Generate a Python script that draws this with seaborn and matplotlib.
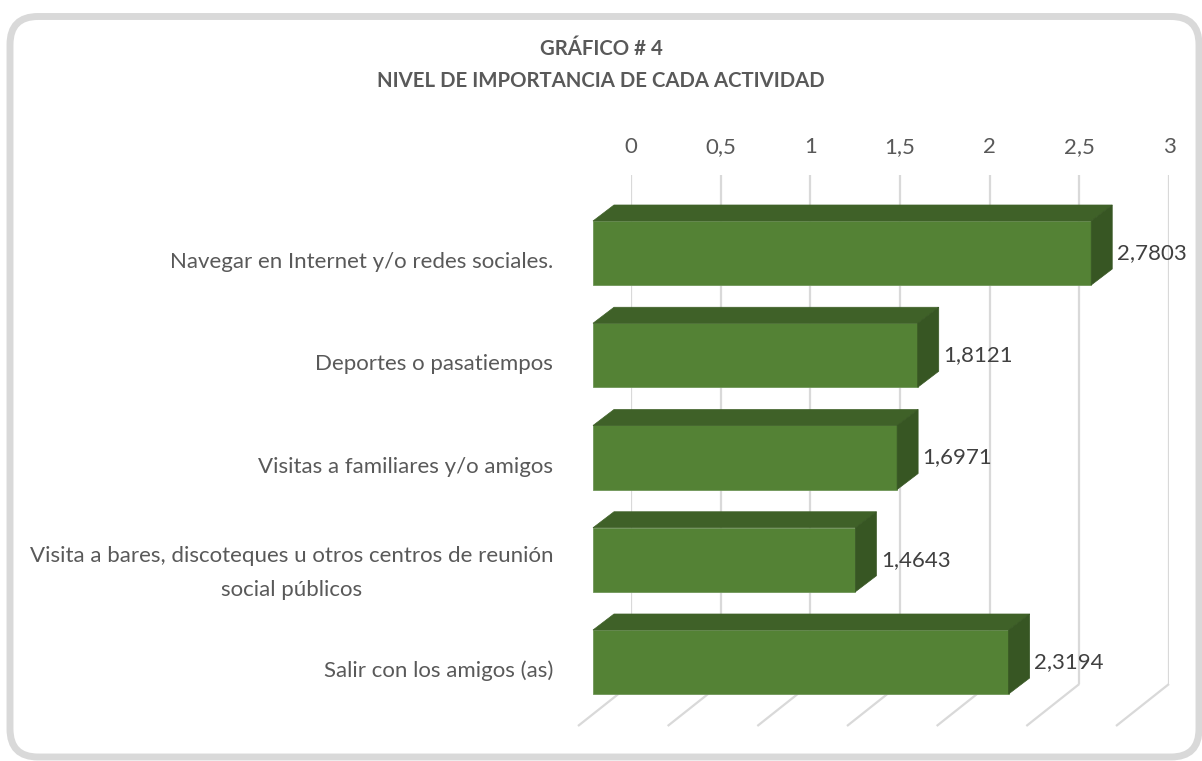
import matplotlib
matplotlib.use('Agg')
import matplotlib.pyplot as plt
import seaborn as sns
import pandas as pd
from matplotlib.patches import Polygon, FancyBboxPatch
from matplotlib.transforms import IdentityTransform

# Data
categories = [
    "Navegar en Internet y/o redes sociales.",
    "Deportes o pasatiempos",
    "Visitas a familiares y/o amigos",
    "Visita a bares, discoteques u otros centros de reunión\nsocial públicos",
    "Salir con los amigos (as)",
]
values = [2.7803, 1.8121, 1.6971, 1.4643, 2.3194]
value_labels = ["2,7803", "1,8121", "1,6971", "1,4643", "2,3194"]
tick_values = [0, 0.5, 1, 1.5, 2, 2.5, 3]
tick_labels = ["0", "0,5", "1", "1,5", "2", "2,5", "3"]
title_lines = ["GRÁFICO # 4", "NIVEL DE IMPORTANCIA DE CADA ACTIVIDAD"]

sns.set_style("white")
plt.rcParams['font.family'] = ['Lato', 'DejaVu Sans']

W, H = 1202, 761
fig = plt.figure(figsize=(W / 100, H / 100), dpi=100)

FRONT = '#548235'
TOP = '#3f6128'
SIDE = '#375623'
GRID = '#d9d9d9'
TXT = '#595959'
FS = 16


def px_box(left, top, right, bottom):
    return [left / W, 1 - bottom / H, (right - left) / W, (bottom - top) / H]


# back wall: gridlines + top tick labels
ax_back = fig.add_axes(px_box(631, 175, 1169, 684))
ax_back.set_xlim(0, 3)
ax_back.set_ylim(0, 1)
ax_back.set_xticks(tick_values)
ax_back.set_xticklabels(tick_labels)
ax_back.set_yticks([])
ax_back.xaxis.tick_top()
ax_back.tick_params(axis='x', length=0, pad=13, labelsize=FS, labelcolor=TXT)
ax_back.grid(True, axis='x', color=GRID, linewidth=1.6)
for s in ax_back.spines.values():
    s.set_visible(False)
ax_back.patch.set_alpha(0)

# floor lines (perspective)
floor_dx = -53 / 179.3
floor_dy = -42 / 509
for v in tick_values:
    ax_back.plot([v, v + floor_dx], [0, floor_dy], color=GRID, lw=1.6,
                 clip_on=False, solid_capstyle='butt')

# front plane: bars
top_px, bot_px = 150, 740
ax = fig.add_axes(px_box(593, top_px, 593 + 3 * 179.2, bot_px))
df = pd.DataFrame({'actividad': categories, 'valor': values})
bar_h = 0.626
sns.barplot(data=df, x='valor', y='actividad', orient='h', color=FRONT,
            saturation=1, width=bar_h, ax=ax)
for p in ax.patches:
    p.set_edgecolor('#6f9658')
    p.set_linewidth(0.6)
    p.set_clip_on(False)

ax.set_xlim(0, 3)
ax.set_ylim((bot_px - 253) / 102.25, (top_px - 253) / 102.25)
ax.patch.set_alpha(0)
ax.set_xticks([])
ax.set_yticks([])
ax.set_xlabel('')
ax.set_ylabel('')
for s in ax.spines.values():
    s.set_visible(False)

# 3D faces
ddx = 21 / 179.2
ddy = -16 / 102.25
for i, v in enumerate(values):
    y0 = i - bar_h / 2
    y1 = i + bar_h / 2
    top = Polygon([(0, y0), (v, y0), (v + ddx, y0 + ddy), (ddx, y0 + ddy)],
                  closed=True, facecolor=TOP, edgecolor=TOP, lw=0.5,
                  clip_on=False)
    side = Polygon([(v, y0), (v, y1), (v + ddx, y1 + ddy), (v + ddx, y0 + ddy)],
                   closed=True, facecolor=SIDE, edgecolor=SIDE, lw=0.5,
                   clip_on=False)
    ax.add_patch(top)
    ax.add_patch(side)
    ax.text(v + ddx + 0.025, i, value_labels[i], ha='left', va='center',
            fontsize=FS, color='#404040', clip_on=False)

# category labels
for i, c in enumerate(categories):
    dy = 0.13 if '\n' in c else 0.09
    ax.text(-40 / 179.2, i + dy, c, ha='right', va='center',
            multialignment='center', fontsize=FS, color=TXT,
            linespacing=1.85, clip_on=False)

# title
fig.text(601 / W, 1 - 49 / H, title_lines[0], ha='center', va='center',
         fontsize=14.7, fontweight='bold', color=TXT)
fig.text(601 / W, 1 - 81 / H, title_lines[1], ha='center', va='center',
         fontsize=14.7, fontweight='bold', color=TXT)

# rounded frame
frame = FancyBboxPatch((10, 761 - 757), 1189, 757 - 16.5,
                       boxstyle='round,pad=0,rounding_size=28',
                       transform=IdentityTransform(), facecolor='none',
                       edgecolor=GRID, linewidth=5)
fig.add_artist(frame)

fig.savefig('out.png', dpi=100)
